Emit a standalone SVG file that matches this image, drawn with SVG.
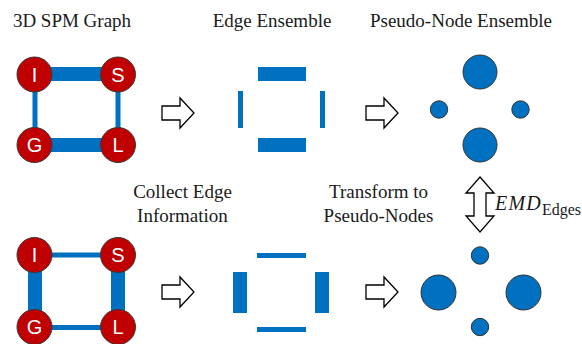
<svg xmlns="http://www.w3.org/2000/svg" xmlns:xlink="http://www.w3.org/1999/xlink" width="582" height="344" viewBox="0 0 582 344">
<style>
.lbl{font-family:"Liberation Serif","Times New Roman",serif;font-size:19px;fill:#1a1a1a;text-anchor:middle}
.edge{fill:#0070C0}
.node circle{fill:#C00000;stroke:#3a3a3a;stroke-width:1}
.node text{font-family:"Liberation Sans",Arial,sans-serif;font-size:20px;fill:#fff;text-anchor:middle}
.pn{fill:#0070C0;stroke:#333;stroke-width:1}
.arr{fill:#fff;stroke:#000;stroke-width:1.3;stroke-linejoin:miter}
</style>
<defs>
<polygon id="rarrow" class="arr" points="0,-7 18,-7 18,-15 32,0 18,15 18,7 0,7"/>
</defs>
<rect width="582" height="344" fill="#fff"/>
<g id="labels">
<text class="lbl" x="72" y="27">3D SPM Graph</text>
<text class="lbl" x="272" y="27">Edge Ensemble</text>
<text class="lbl" x="461" y="27">Pseudo-Node Ensemble</text>
<text class="lbl" x="182.5" y="198">Collect Edge</text>
<text class="lbl" x="182.5" y="222">Information</text>
<text class="lbl" x="378.5" y="198">Transform to</text>
<text class="lbl" x="378.5" y="222">Pseudo-Nodes</text>
</g>
<g id="connectors">
<!-- top graph edges -->
<rect class="edge" x="35" y="67" width="83" height="14"/>
<rect class="edge" x="35" y="138" width="83" height="14"/>
<rect class="edge" x="32.5" y="74" width="5" height="71"/>
<rect class="edge" x="115.5" y="74" width="5" height="71"/>
<!-- bottom graph edges -->
<rect class="edge" x="35" y="252.5" width="83" height="5"/>
<rect class="edge" x="35" y="325" width="83" height="5"/>
<rect class="edge" x="28" y="255" width="14" height="72"/>
<rect class="edge" x="111" y="255" width="14" height="72"/>
<!-- process arrows -->
<use xlink:href="#rarrow" x="162" y="113"/>
<use xlink:href="#rarrow" x="366" y="113"/>
<use xlink:href="#rarrow" x="162" y="292"/>
<use xlink:href="#rarrow" x="366" y="292"/>
<polygon class="arr" points="480,177 494,193 486,193 486,216 494,216 480,232 466,216 474,216 474,193 466,193"/>
<text x="495" y="210" font-family="Liberation Serif,'Times New Roman',serif" font-size="20" fill="#1a1a1a"><tspan font-style="italic" letter-spacing="1.2">EMD</tspan><tspan font-size="16" dy="5">Edges</tspan></text>
</g>
<g id="top-graph">
<g id="node-I1" class="node"><circle cx="34.5" cy="74.5" r="17.5"/><text x="34.5" y="81.5">I</text></g>
<g id="node-S1" class="node"><circle cx="118" cy="74.5" r="17.5"/><text x="118" y="81.5">S</text></g>
<g id="node-G1" class="node"><circle cx="34.5" cy="145" r="17.5"/><text x="34.5" y="152">G</text></g>
<g id="node-L1" class="node"><circle cx="118" cy="145" r="17.5"/><text x="118" y="152">L</text></g>
</g>
<g id="bottom-graph">
<g id="node-I2" class="node"><circle cx="34.5" cy="255" r="17.5"/><text x="34.5" y="262">I</text></g>
<g id="node-S2" class="node"><circle cx="118" cy="255" r="17.5"/><text x="118" y="262">S</text></g>
<g id="node-G2" class="node"><circle cx="34.5" cy="327" r="17.5"/><text x="34.5" y="334">G</text></g>
<g id="node-L2" class="node"><circle cx="118" cy="327" r="17.5"/><text x="118" y="334">L</text></g>
</g>
<g id="edge-ensemble-top">
<rect class="edge" x="258" y="67" width="48" height="14"/>
<rect class="edge" x="258" y="138" width="48" height="14"/>
<rect class="edge" x="238" y="91" width="5" height="37"/>
<rect class="edge" x="320" y="91" width="5" height="37"/>
</g>
<g id="edge-ensemble-bottom">
<rect class="edge" x="257" y="253" width="49" height="5"/>
<rect class="edge" x="257" y="327" width="49" height="5"/>
<rect class="edge" x="233" y="272" width="14" height="41"/>
<rect class="edge" x="315" y="272" width="14" height="41"/>
</g>
<g id="pseudo-nodes-top">
<circle class="pn" cx="480" cy="72" r="17"/>
<circle class="pn" cx="480" cy="145" r="17"/>
<circle class="pn" cx="439" cy="109.5" r="8.7"/>
<circle class="pn" cx="520.5" cy="109.5" r="8.7"/>
</g>
<g id="pseudo-nodes-bottom">
<circle class="pn" cx="480" cy="255.5" r="8.7"/>
<circle class="pn" cx="480" cy="327" r="8.7"/>
<circle class="pn" cx="438.5" cy="292.5" r="17.5"/>
<circle class="pn" cx="523.5" cy="292.5" r="17.5"/>
</g>
</svg>
